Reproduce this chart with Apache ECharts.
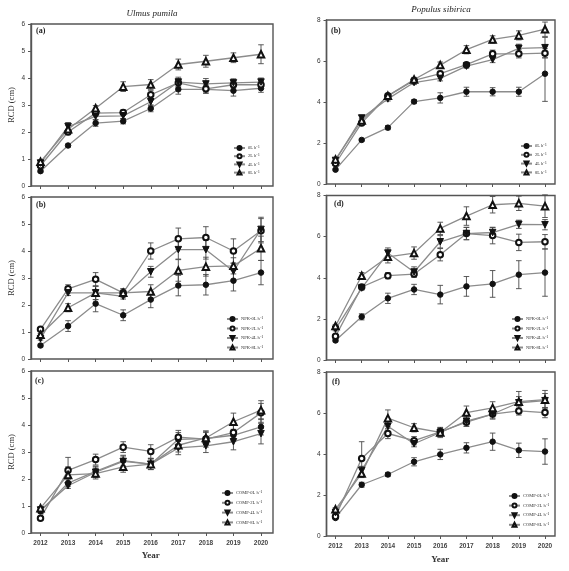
<!DOCTYPE html>
<html>
<head>
<meta charset="utf-8">
<script src="https://cdn.jsdelivr.net/npm/echarts@6/dist/echarts.min.js"></script>
<style>html,body{margin:0;padding:0;background:#fff}#c{width:569px;height:571px}</style>
</head>
<body>
<div id="c"></div>
<script>
// ---------- data ----------
const years = [2012, 2013, 2014, 2015, 2016, 2017, 2018, 2019, 2020];

const legendWater = ['0L h\u207B\u00B9', '2L h\u207B\u00B9', '4L h\u207B\u00B9', '8L h\u207B\u00B9'];
const legendNPK = ['NPK-0L h\u207B\u00B9', 'NPK-2L h\u207B\u00B9', 'NPK-4L h\u207B\u00B9', 'NPK-8L h\u207B\u00B9'];
const legendCOMP = ['COMP-0L h\u207B\u00B9', 'COMP-2L h\u207B\u00B9', 'COMP-4L h\u207B\u00B9', 'COMP-8L h\u207B\u00B9'];

// (a) Ulmus pumila, water
const ulmusWaterMean = [
  [0.55, 1.50, 2.33, 2.40, 2.87, 3.58, 3.58, 3.53, 3.62],
  [0.75, 2.00, 2.70, 2.72, 3.38, 3.82, 3.60, 3.75, 3.75],
  [0.85, 2.20, 2.58, 2.60, 3.12, 3.85, 3.78, 3.82, 3.85],
  [0.90, 2.10, 2.88, 3.68, 3.76, 4.50, 4.62, 4.75, 4.88]
];
const ulmusWaterErr = [
  [0.05, 0.06, 0.12, 0.10, 0.12, 0.18, 0.15, 0.20, 0.15],
  [0.05, 0.10, 0.12, 0.10, 0.15, 0.15, 0.15, 0.12, 0.12],
  [0.05, 0.15, 0.12, 0.10, 0.12, 0.18, 0.20, 0.15, 0.15],
  [0.05, 0.15, 0.10, 0.18, 0.18, 0.20, 0.22, 0.18, 0.35]
];
// (b) Populus sibirica, water
const populusWaterMean = [
  [0.70, 2.15, 2.75, 4.02, 4.20, 4.50, 4.50, 4.50, 5.38],
  [1.00, 2.98, 4.30, 5.05, 5.38, 5.82, 6.35, 6.35, 6.38],
  [1.15, 3.22, 4.15, 4.95, 5.15, 5.75, 6.07, 6.62, 6.65],
  [1.20, 3.10, 4.30, 5.10, 5.80, 6.55, 7.05, 7.25, 7.55]
];
const populusWaterErr = [
  [0.05, 0.06, 0.10, 0.10, 0.25, 0.22, 0.20, 0.22, 1.35],
  [0.05, 0.10, 0.10, 0.10, 0.12, 0.10, 0.18, 0.20, 0.22],
  [0.05, 0.10, 0.10, 0.10, 0.12, 0.10, 0.15, 0.20, 0.50],
  [0.05, 0.10, 0.10, 0.10, 0.15, 0.20, 0.18, 0.22, 0.35]
];
// (b) Ulmus pumila, NPK
const ulmusNPKMean = [
  [0.50, 1.22, 2.05, 1.62, 2.20, 2.72, 2.75, 2.90, 3.20],
  [1.10, 2.60, 2.95, 2.45, 4.00, 4.45, 4.50, 4.00, 4.75],
  [0.75, 2.45, 2.45, 2.32, 3.23, 4.05, 4.05, 3.25, 4.80],
  [0.90, 1.90, 2.45, 2.45, 2.50, 3.28, 3.42, 3.45, 4.10]
];
const ulmusNPKErr = [
  [0.05, 0.20, 0.30, 0.20, 0.30, 0.38, 0.38, 0.38, 0.45],
  [0.06, 0.15, 0.25, 0.15, 0.30, 0.40, 0.40, 0.45, 0.45],
  [0.05, 0.10, 0.25, 0.10, 0.20, 0.35, 0.35, 0.30, 0.45],
  [0.05, 0.15, 0.25, 0.15, 0.25, 0.40, 0.35, 0.30, 0.45]
];
// (d) Populus sibirica, NPK
const populusNPKMean = [
  [0.95, 2.10, 3.00, 3.43, 3.18, 3.58, 3.70, 4.15, 4.25],
  [1.15, 3.55, 4.10, 4.18, 5.12, 6.15, 6.05, 5.72, 5.75],
  [1.50, 3.50, 5.20, 4.28, 5.75, 6.15, 6.20, 6.60, 6.58],
  [1.65, 4.10, 5.02, 5.20, 6.40, 7.00, 7.55, 7.62, 7.48]
];
const populusNPKErr = [
  [0.06, 0.15, 0.25, 0.25, 0.45, 0.48, 0.65, 0.68, 1.15],
  [0.06, 0.10, 0.15, 0.15, 0.30, 0.30, 0.40, 0.40, 0.35],
  [0.08, 0.10, 0.25, 0.25, 0.30, 0.30, 0.25, 0.20, 0.25],
  [0.08, 0.15, 0.30, 0.30, 0.30, 0.45, 0.40, 0.35, 0.55]
];
// (c) Ulmus pumila, COMP
const ulmusCompMean = [
  [0.80, 1.85, 2.28, 2.68, 2.55, 3.47, 3.50, 3.62, 3.93],
  [0.55, 2.32, 2.72, 3.18, 3.02, 3.55, 3.48, 3.72, 4.45],
  [0.85, 1.75, 2.25, 2.65, 2.55, 3.15, 3.23, 3.38, 3.68],
  [0.92, 2.15, 2.20, 2.45, 2.55, 3.25, 3.52, 4.12, 4.55]
];
const ulmusCompErr = [
  [0.06, 0.12, 0.20, 0.20, 0.20, 0.25, 0.22, 0.22, 0.30],
  [0.05, 0.48, 0.20, 0.20, 0.25, 0.25, 0.30, 0.30, 0.35],
  [0.05, 0.10, 0.20, 0.20, 0.20, 0.25, 0.25, 0.30, 0.38],
  [0.05, 0.30, 0.20, 0.20, 0.20, 0.25, 0.25, 0.32, 0.35]
];
// (f) Populus sibirica, COMP
const populusCompMean = [
  [0.88, 2.50, 3.00, 3.62, 3.98, 4.30, 4.60, 4.18, 4.12],
  [0.95, 3.78, 5.00, 4.65, 5.08, 5.55, 5.95, 6.10, 6.02],
  [1.15, 3.20, 5.35, 4.50, 5.05, 5.60, 5.95, 6.50, 6.60],
  [1.30, 3.05, 5.75, 5.28, 5.05, 6.02, 6.25, 6.55, 6.65]
];
const populusCompErr = [
  [0.06, 0.12, 0.10, 0.20, 0.25, 0.25, 0.42, 0.35, 0.62],
  [0.06, 0.82, 0.25, 0.20, 0.20, 0.20, 0.20, 0.20, 0.25],
  [0.06, 0.20, 0.25, 0.15, 0.20, 0.25, 0.25, 0.30, 0.35],
  [0.08, 0.20, 0.40, 0.20, 0.25, 0.32, 0.30, 0.50, 0.45]
];

// ---------- layout ----------
const panels = [
  {mean: ulmusWaterMean, err: ulmusWaterErr, names: legendWater, ymax: 6, yint: 1, fl: 31, fw: 242, dl: 40.5, dw: 220.5, top: 24, h: 162, bottom: false, yname: true, ngap: 18, letter: '(a)', lx: 36, ly: 27, legL: 233, legT: 145, gap: 2.2},
  {mean: populusWaterMean, err: populusWaterErr, names: legendWater, ymax: 8, yint: 2, fl: 326.5, fw: 228.5, dl: 335.5, dw: 209.5, top: 20, h: 164, bottom: false, yname: false, ngap: 18, letter: '(b)', lx: 331, ly: 27, legL: 520, legT: 143, gap: 2.8},
  {mean: ulmusNPKMean, err: ulmusNPKErr, names: legendNPK, ymax: 6, yint: 1, fl: 31, fw: 242, dl: 40.5, dw: 220.5, top: 197, h: 162, bottom: false, yname: true, ngap: 18, letter: '(b)', lx: 36, ly: 201, legL: 226, legT: 316, gap: 3.5},
  {mean: populusNPKMean, err: populusNPKErr, names: legendNPK, ymax: 8, yint: 2, fl: 326.5, fw: 228.5, dl: 335.5, dw: 209.5, top: 195.5, h: 164.5, bottom: false, yname: false, ngap: 18, letter: '(d)', lx: 334, ly: 200, legL: 511, legT: 316, gap: 3.5},
  {mean: ulmusCompMean, err: ulmusCompErr, names: legendCOMP, ymax: 6, yint: 1, fl: 31, fw: 242, dl: 40.5, dw: 220.5, top: 371, h: 162, bottom: true, yname: true, ngap: 18.5, letter: '(c)', lx: 35, ly: 377, legL: 221, legT: 490, gap: 3.8},
  {mean: populusCompMean, err: populusCompErr, names: legendCOMP, ymax: 8, yint: 2, fl: 326.5, fw: 228.5, dl: 335.5, dw: 209.5, top: 372, h: 164, bottom: true, yname: false, ngap: 19.5, letter: '(f)', lx: 332, ly: 378, legL: 508, legT: 493, gap: 3.6}
];

const symbols = ['circle', 'emptyCircle', 'triangle', 'emptyTriangle'];
const rotates = [0, 0, 180, 0];
const symSizes = [5.5, 5.5, 6.5, 6.5];
const FRAME = '#555';
const LINE = '#8c8c8c';

const grids = [], xAxes = [], yAxes = [], series = [], legends = [], graphics = [];

function errorSeries(ax, mean, err) {
  return {
    type: 'custom', xAxisIndex: ax, yAxisIndex: ax, silent: true, z: 3,
    data: years.map((y, i) => [y, mean[i] - err[i], mean[i] + err[i]]),
    renderItem: function (params, api) {
      const lo = api.coord([api.value(0), api.value(1)]);
      const hi = api.coord([api.value(0), api.value(2)]);
      const w = 2.8;
      const st = {stroke: '#4a4a4a', lineWidth: 0.9};
      return {type: 'group', children: [
        {type: 'line', shape: {x1: lo[0], y1: lo[1], x2: hi[0], y2: hi[1]}, style: st},
        {type: 'line', shape: {x1: lo[0] - w, y1: lo[1], x2: lo[0] + w, y2: lo[1]}, style: st},
        {type: 'line', shape: {x1: hi[0] - w, y1: hi[1], x2: hi[0] + w, y2: hi[1]}, style: st}
      ]};
    }
  };
}

panels.forEach((p, k) => {
  const d = 2 * k, f = 2 * k + 1;
  grids[d] = {left: p.dl, top: p.top, width: p.dw, height: p.h, show: false};
  grids[f] = {left: p.fl, top: p.top, width: p.fw, height: p.h, show: true, borderColor: FRAME, borderWidth: 1.4, backgroundColor: 'transparent'};
  xAxes[d] = {
    type: 'value', gridIndex: d, min: 2012, max: 2020, interval: 1,
    axisLine: {show: false}, splitLine: {show: false},
    axisTick: {show: true, length: 3, lineStyle: {color: FRAME, width: 1}},
    axisLabel: {show: p.bottom, fontSize: 6.5, fontWeight: 'bold', color: '#444', fontFamily: 'Liberation Sans', margin: 7,
      formatter: function (v) { return String(v); }},
    name: p.bottom ? 'Year' : '', nameLocation: 'middle', nameGap: p.ngap,
    nameTextStyle: {fontSize: 9, fontWeight: 'bold', fontFamily: 'Liberation Serif', color: '#333'}
  };
  xAxes[f] = {type: 'value', gridIndex: f, min: 0, max: 1, show: false};
  yAxes[d] = {type: 'value', gridIndex: d, min: 0, max: p.ymax, interval: p.yint, show: false};
  yAxes[f] = {
    type: 'value', gridIndex: f, min: 0, max: p.ymax, interval: p.yint,
    axisLine: {show: true, lineStyle: {color: FRAME, width: 1.4}},
    axisTick: {show: true, length: 3, lineStyle: {color: FRAME, width: 1}},
    splitLine: {show: false},
    axisLabel: {fontSize: 6.5, color: '#333', fontFamily: 'Liberation Sans', margin: 6},
    name: p.yname ? 'RCD (cm)' : '', nameLocation: 'middle', nameGap: 15, nameRotate: 90,
    nameTextStyle: {fontSize: 8.5, fontFamily: 'Liberation Serif', color: '#333'}
  };
  p.mean.forEach((m, s) => {
    series.push({
      type: 'line', name: p.names[s], xAxisIndex: d, yAxisIndex: d, z: 4,
      data: years.map((y, i) => [y, m[i]]),
      symbol: symbols[s], symbolRotate: rotates[s], symbolSize: symSizes[s],
      showSymbol: true,
      lineStyle: {color: LINE, width: 1.3},
      itemStyle: {color: '#111', borderColor: '#111', borderWidth: s % 2 === 1 ? 0.8 : 1},
      emphasis: {disabled: true}, animation: false
    });
    series.push(errorSeries(d, m, p.err[s]));
  });
  legends.push({
    orient: 'vertical', left: p.legL, top: p.legT, itemWidth: 11, itemHeight: 5, itemGap: p.gap,
    padding: 0, data: p.names.slice(), selectedMode: false,
    textStyle: {fontSize: 4.5, color: '#333', fontFamily: 'Liberation Serif', padding: [0, 0, 0, -2]}
  });
  graphics.push({type: 'text', left: p.lx, top: p.ly, style: {text: p.letter, font: 'bold 8px "Liberation Serif"', fill: '#222'}});
});

graphics.push({type: 'text', x: 152, y: 14, style: {text: 'Ulmus pumila', font: 'italic 9px "Liberation Serif"', fill: '#222', textAlign: 'center', textVerticalAlign: 'middle'}});
graphics.push({type: 'text', x: 441, y: 10, style: {text: 'Populus sibirica', font: 'italic 9px "Liberation Serif"', fill: '#222', textAlign: 'center', textVerticalAlign: 'middle'}});

const chart = echarts.init(document.getElementById('c'), null, {renderer: 'canvas'});
chart.setOption({
  animation: false,
  backgroundColor: '#fff',
  grid: grids, xAxis: xAxes, yAxis: yAxes, series: series, legend: legends, graphic: graphics
});
</script>
</body>
</html>
